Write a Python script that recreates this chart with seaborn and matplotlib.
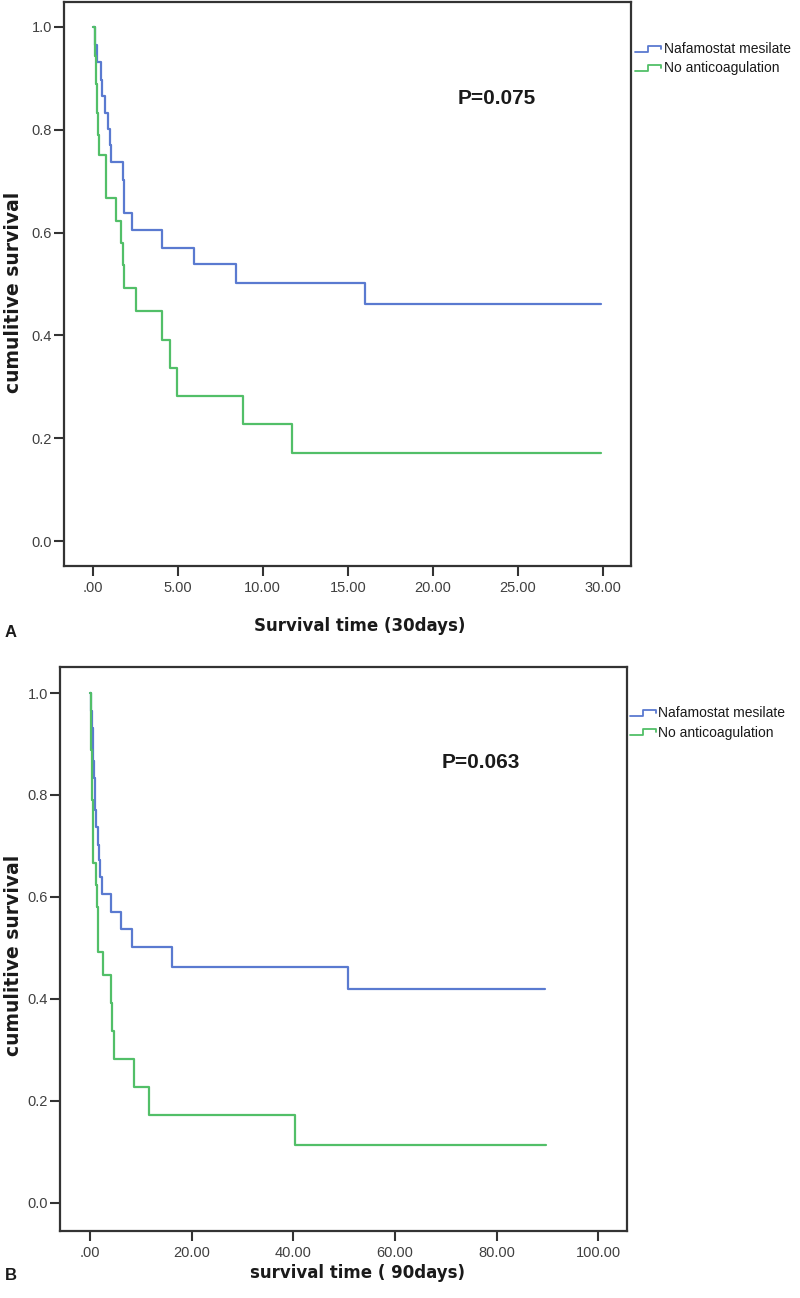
import numpy as np
import pandas as pd
import matplotlib
matplotlib.use("Agg")
import matplotlib.pyplot as plt
from matplotlib.lines import Line2D
import seaborn as sns

# ---------------- data ----------------
groups = ["Nafamostat mesilate", "No anticoagulation"]

# Panel A (30 days)
a_blue_t = [0, 0.15, 0.24, 0.47, 0.55, 0.72, 0.92, 0.99, 1.06, 1.76, 1.81, 1.86, 2.33, 4.09, 5.96, 8.41, 16.0, 29.9]
a_blue_s = [1.0, 0.965, 0.931, 0.897, 0.866, 0.833, 0.802, 0.770, 0.738, 0.702, 0.673, 0.639, 0.605, 0.571, 0.538, 0.501, 0.462, 0.462]
a_green_t = [0, 0.14, 0.20, 0.26, 0.32, 0.37, 0.78, 1.35, 1.65, 1.76, 1.86, 2.55, 4.06, 4.55, 4.98, 8.82, 11.7, 29.9]
a_green_s = [1.0, 0.944, 0.889, 0.833, 0.79, 0.75, 0.667, 0.623, 0.58, 0.537, 0.492, 0.447, 0.392, 0.337, 0.282, 0.227, 0.172, 0.172]

# Panel B (90 days)
b_blue_t = [0, 0.2, 0.3, 0.5, 0.6, 0.75, 0.9, 1.0, 1.1, 1.57, 1.7, 1.85, 2.24, 4.02, 5.98, 8.27, 16.0, 50.7, 89.5]
b_blue_s = [1.0, 0.965, 0.931, 0.897, 0.866, 0.833, 0.802, 0.770, 0.738, 0.702, 0.673, 0.639, 0.605, 0.571, 0.538, 0.501, 0.462, 0.42, 0.42]
b_green_t = [0, 0.1, 0.2, 0.3, 0.4, 0.45, 0.59, 1.12, 1.38, 1.45, 1.5, 2.44, 4.02, 4.33, 4.72, 8.66, 11.6, 40.3, 89.8]
b_green_s = [1.0, 0.944, 0.889, 0.833, 0.79, 0.75, 0.667, 0.623, 0.58, 0.537, 0.492, 0.447, 0.392, 0.337, 0.282, 0.227, 0.172, 0.114, 0.114]

a_xticks = [0, 5, 10, 15, 20, 25, 30]
a_xticklabels = [".00", "5.00", "10.00", "15.00", "20.00", "25.00", "30.00"]
b_xticks = [0, 20, 40, 60, 80, 100]
b_xticklabels = [".00", "20.00", "40.00", "60.00", "80.00", "100.00"]
yticks = [0.0, 0.2, 0.4, 0.6, 0.8, 1.0]
yticklabels = ["0.0", "0.2", "0.4", "0.6", "0.8", "1.0"]

p_a = "P=0.075"
p_b = "P=0.063"
xlabel_a = "Survival time (30days)"
xlabel_b = "survival time ( 90days)"
ylabel = "cumulitive survival"

# ---------------- style ----------------
sns.set_style("white")
plt.rcParams["font.family"] = ["Liberation Sans", "DejaVu Sans"]

BLUE = "#5a7ad0"
GREEN = "#52bf68"
SPINE = "#333333"
palette = {groups[0]: BLUE, groups[1]: GREEN}

W, H = 800, 1298
fig = plt.figure(figsize=(W / 100, H / 100), dpi=100)
fig.patch.set_facecolor("white")


def fx(x):
    return x / W


def fy(y):
    return 1 - y / H


def make_df(bt, bs, gt, gs):
    return pd.concat([
        pd.DataFrame({"time": bt, "surv": bs, "group": groups[0]}),
        pd.DataFrame({"time": gt, "surv": gs, "group": groups[1]}),
    ], ignore_index=True)


def style_axes(ax, xticks, xticklabels, xlim, ylim):
    ax.set_xlim(*xlim)
    ax.set_ylim(*ylim)
    ax.set_xticks(xticks)
    ax.set_xticklabels(xticklabels)
    ax.set_yticks(yticks)
    ax.set_yticklabels(yticklabels)
    ax.set_xlabel("")
    ax.set_ylabel("")
    for s in ax.spines.values():
        s.set_visible(True)
        s.set_color(SPINE)
        s.set_linewidth(1.6)
    ax.tick_params(axis="both", which="both", direction="out", length=7, width=1.5,
                   color=SPINE, labelsize=10.5, labelcolor="#404040",
                   bottom=True, left=True, top=False, right=False)
    ax.tick_params(axis="x", pad=4)
    ax.tick_params(axis="y", pad=1.5)
    ax.set_facecolor("white")


def draw_legend(x0, y1, y2):
    # step-shaped legend glyphs, then labels
    for yc, col, lab in [(y1, BLUE, groups[0]), (y2, GREEN, groups[1])]:
        xs = [x0, x0 + 12.5, x0 + 12.5, x0 + 25.5, x0 + 25.5]
        ys = [yc + 2.5, yc + 2.5, yc - 3.5, yc - 3.5, yc - 0.5]
        fig.add_artist(Line2D([fx(v) for v in xs], [fy(v) for v in ys], color=col,
                              lw=1.3, transform=fig.transFigure))
        fig.text(fx(x0 + 28.5), fy(yc), lab, fontsize=10, color="#1a1a1a",
                 ha="left", va="center")


# ---------------- panel A ----------------
axA = fig.add_axes([fx(64), fy(566), (631 - 64) / W, (566 - 2) / H])
dfA = make_df(a_blue_t, a_blue_s, a_green_t, a_green_s)
sns.lineplot(data=dfA, x="time", y="surv", hue="group", palette=palette,
             drawstyle="steps-post", estimator=None, legend=False, lw=1.6, ax=axA)
style_axes(axA, a_xticks, a_xticklabels, (-1.69, 31.66), (-0.0486, 1.0486))

# ---------------- panel B ----------------
axB = fig.add_axes([fx(60), fy(1231), (627 - 60) / W, (1231 - 667) / H])
dfB = make_df(b_blue_t, b_blue_s, b_green_t, b_green_s)
sns.lineplot(data=dfB, x="time", y="surv", hue="group", palette=palette,
             drawstyle="steps-post", estimator=None, legend=False, lw=1.6, ax=axB)
style_axes(axB, b_xticks, b_xticklabels, (-5.96, 105.65), (-0.055, 1.051))

# ---------------- texts ----------------
for yc in [292, 955]:
    fig.text(fx(14), fy(yc), ylabel, rotation=90, ha="center", va="center",
             fontsize=13.5, fontweight="bold", family="DejaVu Sans", color="#1a1a1a")

fig.text(fx(360), fy(626), xlabel_a, ha="center", va="center", fontsize=12,
         fontweight="bold", family="DejaVu Sans", color="#1a1a1a")
fig.text(fx(358), fy(1273), xlabel_b, ha="center", va="center", fontsize=12,
         fontweight="bold", family="DejaVu Sans", color="#1a1a1a")

fig.text(fx(11), fy(633), "A", ha="center", va="center", fontsize=12,
         fontweight="bold", color="#1a1a1a")
fig.text(fx(11), fy(1275), "B", ha="center", va="center", fontsize=12,
         fontweight="bold", color="#1a1a1a")

fig.text(fx(458), fy(89), p_a, ha="left", va="top", fontsize=15,
         fontweight="bold", color="#1a1a1a")
fig.text(fx(442), fy(753), p_b, ha="left", va="top", fontsize=15,
         fontweight="bold", color="#1a1a1a")

draw_legend(635, 49, 68.3)
draw_legend(630, 713.3, 732.7)

fig.savefig("out.png", dpi=100, facecolor="white")
